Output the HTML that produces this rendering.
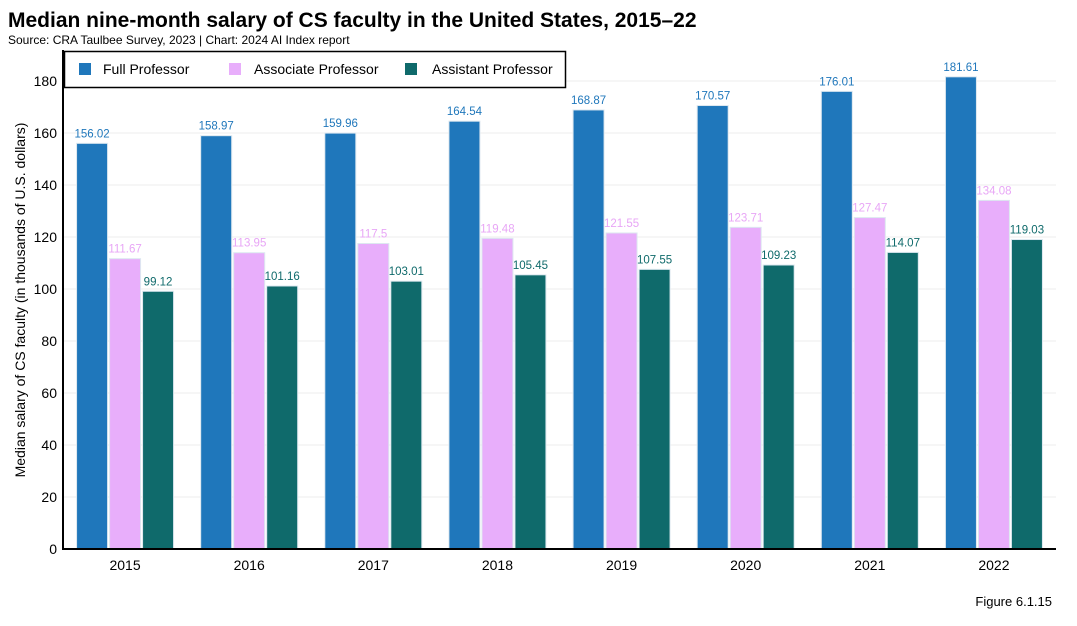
<!DOCTYPE html>
<html><head><meta charset="utf-8"><style>
body{margin:0;background:#fff;width:1077px;height:621px;overflow:hidden;font-family:"Liberation Sans",sans-serif}
</style></head><body>
<svg width="1077" height="621" xmlns="http://www.w3.org/2000/svg">
<text x="8" y="27" font-size="21" font-weight="bold" fill="#000">Median nine-month salary of CS faculty in the United States, 2015–22</text>
<text x="8" y="44" font-size="12" fill="#000">Source: CRA Taulbee Survey, 2023 | Chart: 2024 AI Index report</text>
<g id="grid"></g><g id="bars"></g><g id="axes"></g>
<g>
<rect x="64.5" y="51.5" width="501" height="36" fill="#fff" stroke="#000" stroke-width="1.5"/>
<rect x="79" y="63" width="12" height="12" fill="#1f77bb"/>
<text x="103" y="74" font-size="14">Full Professor</text>
<rect x="229" y="63" width="12" height="12" fill="#e8aefb"/>
<text x="254" y="74" font-size="14">Associate Professor</text>
<rect x="405" y="63" width="12" height="12" fill="#0f6a6b"/>
<text x="432" y="74" font-size="14">Assistant Professor</text>
</g>
<text x="1052" y="606" font-size="13" text-anchor="end">Figure 6.1.15</text>
</svg>
<script>
const categories=["2015","2016","2017","2018","2019","2020","2021","2022"];
const fullProf=[156.02,158.97,159.96,164.54,168.87,170.57,176.01,181.61];
const assocProf=[111.67,113.95,117.5,119.48,121.55,123.71,127.47,134.08];
const asstProf=[99.12,101.16,103.01,105.45,107.55,109.23,114.07,119.03];
const yTicks=[0,20,40,60,80,100,120,140,160,180];
const seriesNames=["full","associate","assistant"];
const colors=["#1f77bb","#e8aefb","#0f6a6b"];
const labelColors=["#1f77bb","#e8a6f6","#0f6a6b"];
const NS="http://www.w3.org/2000/svg";
const X0=63,X1=1056,Y0=549,PX=2.6;
const band=(X1-X0)/categories.length;
const y=v=>Y0-v*PX;
const xc=i=>X0+band*(i+0.5);
function mk(t,a,p){const e=document.createElementNS(NS,t);for(const k in a)e.setAttribute(k,a[k]);p.appendChild(e);return e;}
const grid=document.getElementById('grid'),bars=document.getElementById('bars'),axes=document.getElementById('axes');
yTicks.forEach(t=>{
 const l=mk('line',{x1:X0,x2:X1,y1:y(t),y2:y(t),stroke:'#eee','stroke-width':1},grid);
 
 
 const tx=mk('text',{x:57,y:y(t)+5,'font-size':14,'text-anchor':'end'},axes);tx.textContent=t;
 
 
});
const series=[fullProf,assocProf,asstProf];
const bw=31,stride=33;
categories.forEach((c,i)=>{
 series.forEach((s,j)=>{
  const bx=xc(i)+(j-1)*stride-bw/2;
  const r=mk('rect',{x:bx,y:y(s[i]),width:bw,height:s[i]*PX,fill:colors[j],stroke:'#dde8f0','stroke-width':1},bars);
  
  
  const t=mk('text',{x:bx+bw/2,y:y(s[i])-6,'font-size':11.5,'text-anchor':'middle',fill:labelColors[j]},bars);
  t.textContent=s[i];
  
  
 });
 const tx=mk('text',{x:xc(i),y:570,'font-size':14,'text-anchor':'middle'},axes);tx.textContent=c;
 
 
});
const ya=mk('line',{x1:X0,x2:X0,y1:50,y2:Y0+1,stroke:'#000','stroke-width':2},axes);


const xa=mk('line',{x1:X0-1,x2:X1,y1:Y0,y2:Y0,stroke:'#000','stroke-width':2},axes);


const yt=mk('text',{x:0,y:0,'font-size':14,'text-anchor':'middle',transform:'translate(25,300) rotate(-90)'},axes);
yt.textContent='Median salary of CS faculty (in thousands of U.S. dollars)';


</script>
</body></html>
